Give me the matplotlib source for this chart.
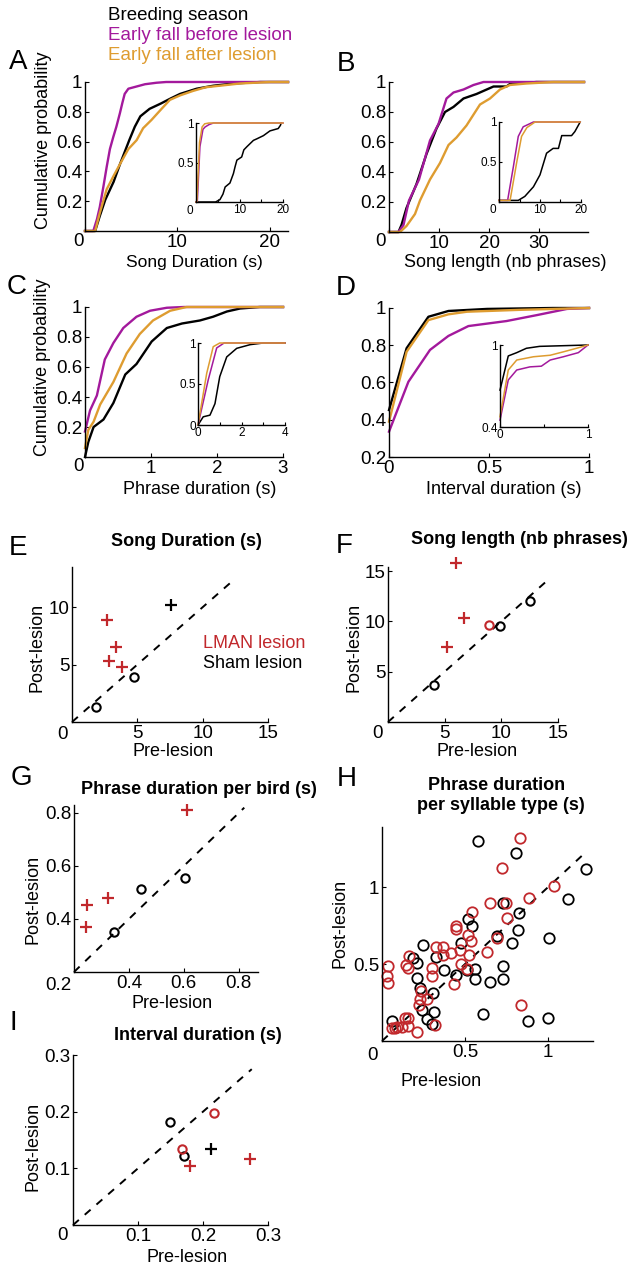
import matplotlib
matplotlib.use('Agg')
import matplotlib.pyplot as plt

W, H = 633, 1268
plt.rcParams['font.family'] = ['Liberation Sans', 'DejaVu Sans']

BLACK = 'k'
PURPLE = '#A3199C'
ORANGE = '#DE9C30'
RED = '#C1282C'

# ---- A: song duration CDFs ----
a_breed_x = [0, 1.1, 1.6, 2.2, 3.1, 3.8, 4.8, 5.4, 6.0, 7.0, 8.2, 9.3, 10.3, 12.1, 13.9, 16.1, 19.0, 22]
a_breed_y = [0, 0, 0.10, 0.21, 0.33, 0.45, 0.61, 0.70, 0.77, 0.82, 0.855, 0.89, 0.92, 0.955, 0.975, 0.99, 1.0, 1.0]
a_before_x = [0, 0.9, 1.3, 1.6, 2.0, 2.35, 2.7, 3.06, 3.4, 3.78, 4.05, 4.3, 4.7, 5.0, 5.6, 6.5, 7.75, 8.8, 22]
a_before_y = [0, 0, 0.08, 0.16, 0.30, 0.43, 0.55, 0.63, 0.70, 0.79, 0.86, 0.92, 0.955, 0.96, 0.97, 0.985, 0.995, 1.0, 1.0]
a_after_x = [0, 1.1, 1.6, 2.35, 3.1, 3.8, 4.7, 5.6, 6.3, 7.2, 8.3, 9.2, 10.3, 11.7, 13.1, 14.6, 16.8, 20.0, 22]
a_after_y = [0, 0, 0.12, 0.28, 0.37, 0.45, 0.55, 0.61, 0.69, 0.745, 0.82, 0.88, 0.91, 0.94, 0.965, 0.975, 0.99, 1.0, 1.0]
ai_breed_x = [0, 4.5, 5.5, 6.2, 6.7, 7.8, 8.6, 9.0, 9.4, 10.5, 11.0, 11.7, 13.2, 14.0, 15.5, 17.0, 18.9, 19.4, 19.6]
ai_breed_y = [0, 0, 0.03, 0.10, 0.19, 0.24, 0.36, 0.45, 0.53, 0.57, 0.66, 0.70, 0.78, 0.80, 0.84, 0.90, 0.93, 0.97, 1.0]
ai_before_x = [0, 0.3, 0.9, 1.6, 2.1, 3.0, 4.0, 20]
ai_before_y = [0, 0, 0.70, 0.92, 0.95, 0.98, 1.0, 1.0]
ai_after_x = [0, 0.2, 0.8, 1.4, 2.0, 3.0, 20]
ai_after_y = [0, 0, 0.75, 0.95, 0.99, 1.0, 1.0]

# ---- B: song length CDFs ----
b_breed_x = [0, 1.9, 2.5, 3.5, 5.5, 7.5, 9.5, 11.2, 12.9, 14.9, 17.5, 20.9, 23.5, 24.5, 27.5, 29.5, 39]
b_breed_y = [0, 0, 0.047, 0.16, 0.32, 0.52, 0.69, 0.80, 0.834, 0.89, 0.92, 0.97, 0.97, 0.995, 0.995, 1.0, 1.0]
b_before_x = [0, 1.9, 2.9, 4.0, 6.0, 8.2, 9.9, 11.5, 12.9, 14.9, 16.9, 18.9, 39]
b_before_y = [0, 0, 0.047, 0.21, 0.35, 0.61, 0.72, 0.89, 0.93, 0.95, 0.98, 1.0, 1.0]
b_after_x = [0, 2.2, 3.5, 5.2, 6.2, 8.2, 10.2, 11.9, 13.5, 15.5, 18.2, 20.2, 22.2, 24.2, 27.5, 32.9, 39]
b_after_y = [0, 0, 0.04, 0.12, 0.21, 0.35, 0.46, 0.58, 0.63, 0.71, 0.85, 0.89, 0.95, 0.98, 0.99, 1.0, 1.0]
bi_breed_x = [0, 4.7, 6.3, 8.4, 10.0, 11.6, 13.2, 14.5, 15.3, 17.7, 18.5, 19.8]
bi_breed_y = [0.02, 0.02, 0.07, 0.19, 0.34, 0.61, 0.67, 0.67, 0.83, 0.83, 0.88, 1.0]
bi_before_x = [0, 2.1, 3.5, 4.7, 5.9, 8.4, 19.8]
bi_before_y = [0.02, 0.02, 0.44, 0.82, 0.94, 1.0, 1.0]
bi_after_x = [0, 2.7, 4.3, 5.5, 6.8, 8.8, 19.8]
bi_after_y = [0.02, 0.02, 0.49, 0.82, 0.93, 1.0, 1.0]

# ---- C: phrase duration CDFs ----
c_breed_x = [0, 0.05, 0.13, 0.28, 0.43, 0.61, 0.78, 1.01, 1.24, 1.47, 1.74, 1.94, 2.15, 2.35, 2.65, 3.0]
c_breed_y = [0.0, 0.10, 0.20, 0.25, 0.36, 0.55, 0.62, 0.77, 0.86, 0.89, 0.91, 0.935, 0.97, 0.99, 1.0, 1.0]
c_before_x = [0, 0.076, 0.18, 0.30, 0.43, 0.58, 0.78, 0.985, 1.24, 1.5, 3.0]
c_before_y = [0.17, 0.31, 0.41, 0.65, 0.76, 0.86, 0.935, 0.975, 0.995, 1.0, 1.0]
c_after_x = [0, 0.05, 0.13, 0.23, 0.43, 0.63, 0.83, 1.03, 1.29, 1.54, 3.0]
c_after_y = [0.06, 0.18, 0.235, 0.35, 0.50, 0.69, 0.82, 0.91, 0.975, 1.0, 1.0]
ci_breed_x = [0, 0.24, 0.55, 0.78, 1.0, 1.32, 1.78, 2.4, 3.0, 4.0]
ci_breed_y = [0, 0.10, 0.12, 0.26, 0.59, 0.83, 0.935, 0.98, 1.0, 1.0]
ci_before_x = [0, 0.47, 0.86, 1.2, 4.0]
ci_before_y = [0, 0.55, 0.94, 1.0, 1.0]
ci_after_x = [0, 0.4, 0.7, 1.0, 4.0]
ci_after_y = [0, 0.63, 0.955, 1.0, 1.0]

# ---- D: interval duration CDFs ----
d_breed_x = [0, 0.088, 0.197, 0.297, 0.49, 0.82, 1.0]
d_breed_y = [0.452, 0.784, 0.953, 0.984, 0.995, 1.0, 1.0]
d_before_x = [0, 0.097, 0.205, 0.297, 0.397, 0.588, 0.74, 0.89, 1.0]
d_before_y = [0.336, 0.604, 0.775, 0.85, 0.903, 0.93, 0.962, 0.995, 1.0]
d_after_x = [0, 0.088, 0.197, 0.297, 0.39, 0.65, 1.0]
d_after_y = [0.39, 0.765, 0.935, 0.966, 0.98, 0.99, 1.0]
di_breed_x = [0, 0.094, 0.19, 0.30, 0.45, 1.0]
di_breed_y = [0.67, 0.92, 0.944, 0.976, 0.99, 1.0]
di_before_x = [0, 0.094, 0.19, 0.34, 0.47, 0.57, 0.72, 0.89, 1.0]
di_before_y = [0.45, 0.744, 0.817, 0.84, 0.845, 0.89, 0.914, 0.944, 1.0]
di_after_x = [0, 0.094, 0.19, 0.38, 0.57, 0.72, 0.87, 1.0]
di_after_y = [0.475, 0.817, 0.89, 0.914, 0.925, 0.95, 0.976, 1.0]

# ---- E-I: pre vs post lesion ----
e_lman_plus_pre = [2.7, 3.4, 2.8, 3.8]
e_lman_plus_post = [8.85, 6.5, 5.35, 4.8]
e_sham_plus_pre = [7.6]
e_sham_plus_post = [10.2]
e_sham_circ_pre = [1.8, 4.75]
e_sham_circ_post = [1.35, 3.9]

f_lman_plus_pre = [6.0, 6.7, 5.2]
f_lman_plus_post = [15.8, 10.3, 7.5]
f_lman_circ_pre = [8.9]
f_lman_circ_post = [9.6]
f_sham_circ_pre = [9.9, 12.5, 4.1]
f_sham_circ_post = [9.5, 12.0, 3.7]

g_lman_plus_pre = [0.61, 0.248, 0.244, 0.325]
g_lman_plus_post = [0.81, 0.453, 0.371, 0.478]
g_sham_circ_pre = [0.345, 0.444, 0.604]
g_sham_circ_post = [0.352, 0.512, 0.553]

i_sham_circ_pre = [0.149, 0.171]
i_sham_circ_post = [0.182, 0.122]
i_lman_circ_pre = [0.167, 0.217]
i_lman_circ_post = [0.135, 0.197]
i_sham_plus_pre = [0.212]
i_sham_plus_post = [0.134]
i_lman_plus_pre = [0.18, 0.273]
i_lman_plus_post = [0.105, 0.117]

h_sham_pre = [0.58, 0.805, 1.227, 1.12, 0.727, 0.826, 0.52, 0.54, 0.69, 0.82, 0.785, 1.006,
              0.249, 0.474, 0.325, 0.189, 0.209, 0.373, 0.446, 0.51, 0.56, 0.727, 0.56, 0.65,
              0.727, 0.209, 0.229, 0.309, 0.24, 0.31, 0.27, 0.30, 0.607, 0.058, 0.877, 0.998]
h_sham_post = [1.30, 1.22, 1.12, 0.92, 0.898, 0.829, 0.79, 0.747, 0.684, 0.72, 0.638, 0.667,
               0.623, 0.638, 0.543, 0.536, 0.509, 0.461, 0.429, 0.461, 0.465, 0.487, 0.40, 0.381,
               0.40, 0.411, 0.342, 0.31, 0.20, 0.19, 0.14, 0.11, 0.173, 0.13, 0.132, 0.147]
h_lman_pre = [0.831, 0.721, 1.038, 0.887, 0.65, 0.745, 0.54, 0.751, 0.446, 0.446, 0.52, 0.534,
              0.69, 0.63, 0.47, 0.327, 0.37, 0.416, 0.37, 0.526, 0.165, 0.146, 0.154, 0.30,
              0.30, 0.476, 0.514, 0.034, 0.028, 0.034, 0.436, 0.233, 0.227, 0.27, 0.223, 0.159,
              0.139, 0.154, 0.058, 0.078, 0.088, 0.119, 0.209, 0.32, 0.837]
h_lman_post = [1.316, 1.125, 1.006, 0.926, 0.894, 0.898, 0.84, 0.80, 0.747, 0.725, 0.688, 0.649,
               0.667, 0.58, 0.591, 0.608, 0.612, 0.573, 0.558, 0.558, 0.552, 0.494, 0.472, 0.477,
               0.422, 0.50, 0.465, 0.49, 0.422, 0.379, 0.369, 0.325, 0.271, 0.271, 0.234, 0.147,
               0.147, 0.097, 0.082, 0.082, 0.093, 0.093, 0.061, 0.104, 0.234]

FS = 13
FS_TICK = 13.5
FS_IN = 8.5

fig = plt.figure(figsize=(W / 100, H / 100), dpi=100)


def add_ax(l, t, r, b):
    return fig.add_axes([l / W, 1 - b / H, (r - l) / W, (b - t) / H])


def ftext(x, y, s, **kw):
    kw.setdefault('ha', 'center')
    kw.setdefault('va', 'center')
    fig.text(x / W, 1 - y / H, s, **kw)


def style(ax, fs):
    ax.spines['top'].set_visible(False)
    ax.spines['right'].set_visible(False)
    ax.spines['left'].set_linewidth(1.0)
    ax.spines['bottom'].set_linewidth(1.0)
    ax.tick_params(direction='in', length=3, width=0.8, labelsize=fs, pad=2)
    ax.patch.set_alpha(0)


def cdf_panel(box, ibox, main, inset, xlim, ylim, xt, xtl, yt, ytl,
              ixlim, iylim, ixt, ixtl, iyt, iytl):
    ax = add_ax(*box)
    for (x, y), c in zip(main, [BLACK, PURPLE, ORANGE]):
        ax.plot(x, y, color=c, lw=1.7, clip_on=False)
    ax.set_xlim(xlim)
    ax.set_ylim(ylim)
    ax.set_xticks(xt)
    ax.set_xticklabels(xtl)
    ax.set_yticks(yt)
    ax.set_yticklabels(ytl)
    style(ax, FS_TICK)
    ia = add_ax(*ibox)
    for (x, y), c in zip(inset, [BLACK, PURPLE, ORANGE]):
        ia.plot(x, y, color=c, lw=1.1, clip_on=False)
    ia.set_xlim(ixlim)
    ia.set_ylim(iylim)
    ia.set_xticks(ixt)
    ia.set_xticklabels(ixtl)
    ia.set_yticks(iyt)
    ia.set_yticklabels(iytl)
    style(ia, FS_IN)
    ia.tick_params(length=2, pad=1.5)
    return ax, ia


yt_main = [0.2, 0.4, 0.6, 0.8, 1]
ytl_main = ['0.2', '0.4', '0.6', '0.8', '1']

# A
cdf_panel((85, 82, 288, 231), (196, 123, 283, 202),
          [(a_breed_x, a_breed_y), (a_before_x, a_before_y), (a_after_x, a_after_y)],
          [(ai_breed_x, ai_breed_y), (ai_before_x, ai_before_y), (ai_after_x, ai_after_y)],
          (0, 22), (0, 1), [0, 10, 20], ['', '10', '20'], yt_main, ytl_main,
          (0, 20), (0, 1), [0, 5, 10, 15, 20], ['', '', '10', '', '20'], [0, 0.5, 1], ['', '0.5', '1'])
ftext(78, 241, '0', fontsize=FS_TICK)
ftext(190, 211, '0', fontsize=FS_IN)

# B
cdf_panel((389, 82, 588, 232), (499, 122, 581, 202),
          [(b_breed_x, b_breed_y), (b_before_x, b_before_y), (b_after_x, b_after_y)],
          [(bi_breed_x, bi_breed_y), (bi_before_x, bi_before_y), (bi_after_x, bi_after_y)],
          (0, 39.8), (0, 1), [0, 10, 20, 30], ['', '10', '20', '30'], yt_main, ytl_main,
          (0, 20), (0, 1), [0, 5, 10, 15, 20], ['', '', '10', '', '20'], [0.5, 1], ['0.5', '1'])
ftext(380, 242, '0', fontsize=FS_TICK)
ftext(493, 210, '0', fontsize=FS_IN)

# C
cdf_panel((85, 307, 283, 457), (198, 343, 285, 425),
          [(c_breed_x, c_breed_y), (c_before_x, c_before_y), (c_after_x, c_after_y)],
          [(ci_breed_x, ci_breed_y), (ci_before_x, ci_before_y), (ci_after_x, ci_after_y)],
          (0, 3), (0, 1), [0, 1, 2, 3], ['', '1', '2', '3'], yt_main, ytl_main,
          (0, 4), (0, 1), [0, 1, 2, 3, 4], ['0', '', '2', '', '4'], [0, 0.5, 1], ['0', '0.5', '1'])
ftext(78, 467, '0', fontsize=FS_TICK)

# D
cdf_panel((389, 308, 589, 457), (500, 345, 588, 427),
          [(d_breed_x, d_breed_y), (d_before_x, d_before_y), (d_after_x, d_after_y)],
          [(di_breed_x, di_breed_y), (di_before_x, di_before_y), (di_after_x, di_after_y)],
          (0, 1), (0.2, 1), [0, 0.5, 1], ['0', '0.5', '1'], yt_main, ytl_main,
          (0, 1), (0.4, 1), [0, 0.5, 1], ['0', '', '1'], [0.4, 1], ['0.4', '1'])

# axis labels A-D
ftext(44, 140, 'Cumulative probability', rotation=90, fontsize=FS)
ftext(43, 367, 'Cumulative probability', rotation=90, fontsize=FS)
ftext(194, 263, 'Song Duration (s)', fontsize=12.5)
ftext(505, 262, 'Song length (nb phrases)', fontsize=FS)
ftext(200, 489, 'Phrase duration (s)', fontsize=FS)
ftext(504, 489, 'Interval duration (s)', fontsize=FS)

# legend text
ftext(108, 15, 'Breeding season', color=BLACK, fontsize=13.5, ha='left')
ftext(108, 35, 'Early fall before lesion', color=PURPLE, fontsize=13.5, ha='left')
ftext(108, 55, 'Early fall after lesion', color=ORANGE, fontsize=13.5, ha='left')


def scatter_panel(box, xlim, ylim, diag, xt, yt, zero_xy, zero_lbl):
    ax = add_ax(*box)
    ax.plot(diag, diag, color='k', lw=1.4, ls=(0, (4, 4)), clip_on=False)
    ax.set_xlim(xlim)
    ax.set_ylim(ylim)
    ax.set_xticks(xt)
    ax.set_yticks(yt)
    ax.set_xticklabels([('%g' % v) for v in xt])
    ax.set_yticklabels([('%g' % v) for v in yt])
    style(ax, FS_TICK)
    ftext(zero_xy[0], zero_xy[1], zero_lbl, fontsize=FS_TICK)
    return ax


def plus(ax, x, y, c):
    ax.plot(x, y, ls='none', marker='+', ms=9, mew=1.6, color=c, clip_on=False)


def circ(ax, x, y, c, ms=6, mew=1.5):
    ax.plot(x, y, ls='none', marker='o', ms=ms, mew=mew, mfc='none', mec=c, clip_on=False)


# E
ax = scatter_panel((72, 567, 268, 722), (0, 15), (0, 13.5), [0, 12.3], [5, 10, 15], [5, 10], (62, 735), '0')
plus(ax, e_lman_plus_pre, e_lman_plus_post, RED)
plus(ax, e_sham_plus_pre, e_sham_plus_post, BLACK)
circ(ax, e_sham_circ_pre, e_sham_circ_post, BLACK)
ftext(203, 644, 'LMAN lesion', color=RED, fontsize=FS, ha='left')
ftext(203, 664, 'Sham lesion', color=BLACK, fontsize=FS, ha='left')

# F
ax = scatter_panel((388, 567, 558, 722), (0, 15), (0, 15.4), [0, 14], [5, 10, 15], [5, 10, 15], (378, 734), '0')
plus(ax, f_lman_plus_pre, f_lman_plus_post, RED)
circ(ax, f_lman_circ_pre, f_lman_circ_post, RED)
circ(ax, f_sham_circ_pre, f_sham_circ_post, BLACK)

# G
ax = scatter_panel((74, 805, 258, 972), (0.2, 0.87), (0.2, 0.83), [0.2, 0.82], [0.4, 0.6, 0.8], [0.4, 0.6, 0.8], (58, 985), '0.2')
plus(ax, g_lman_plus_pre, g_lman_plus_post, RED)
circ(ax, g_sham_circ_pre, g_sham_circ_post, BLACK)

# H
ax = scatter_panel((382, 827, 593, 1041), (0, 1.27), (0, 1.39), [0, 1.23], [0.5, 1], [0.5, 1], (372, 1055), '0')
circ(ax, h_sham_pre, h_sham_post, BLACK, ms=7.5, mew=1.3)
circ(ax, h_lman_pre, h_lman_post, RED, ms=7.5, mew=1.3)

# I
ax = scatter_panel((73, 1055, 268, 1225), (0, 0.3), (0, 0.3), [0, 0.275], [0.1, 0.2, 0.3], [0.1, 0.2, 0.3], (63, 1236), '0')
circ(ax, i_sham_circ_pre, i_sham_circ_post, BLACK)
circ(ax, i_lman_circ_pre, i_lman_circ_post, RED)
plus(ax, i_sham_plus_pre, i_sham_plus_post, BLACK)
plus(ax, i_lman_plus_pre, i_lman_plus_post, RED)

# titles
ftext(186, 541, 'Song Duration (s)', fontsize=FS, fontweight='bold')
ftext(519, 539, 'Song length (nb phrases)', fontsize=FS, fontweight='bold')
ftext(199, 790, 'Phrase duration per bird (s)', fontsize=FS, fontweight='bold')
ftext(497, 785, 'Phrase duration', fontsize=FS, fontweight='bold')
ftext(501, 805, 'per syllable type (s)', fontsize=FS, fontweight='bold')
ftext(198, 1035, 'Interval duration (s)', fontsize=FS, fontweight='bold')

# scatter axis labels
for x, y in [(173, 752), (477, 752), (172, 1003), (441, 1081), (187, 1257)]:
    ftext(x, y, 'Pre-lesion', fontsize=FS)
for x, y in [(37, 647), (354, 647), (33, 899), (340, 923), (33, 1146)]:
    ftext(x, y, 'Post-lesion', fontsize=FS, rotation=90)

# panel letters
for s, x, y in [('A', 18, 62), ('B', 346, 64), ('C', 17, 287), ('D', 346, 288),
                ('E', 18, 548), ('F', 344, 546), ('G', 21, 778), ('H', 347, 779), ('I', 13, 1023)]:
    ftext(x, y, s, fontsize=20)

fig.savefig('out.png', dpi=100)
